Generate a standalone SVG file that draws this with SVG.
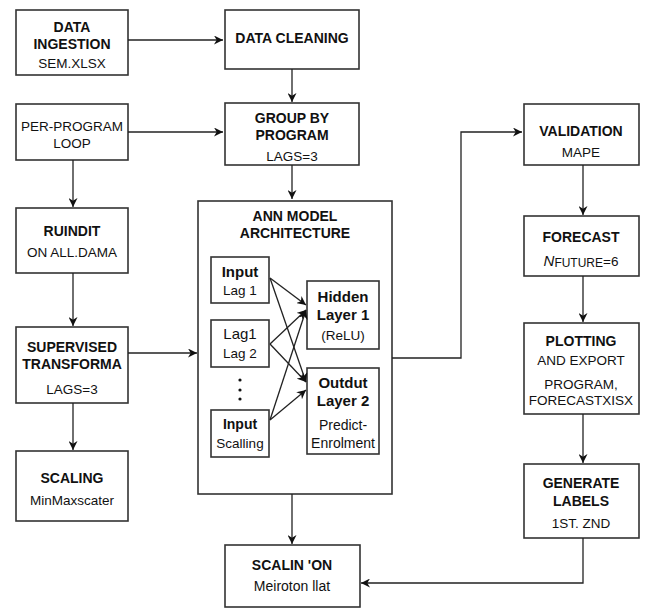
<svg xmlns="http://www.w3.org/2000/svg" width="653" height="615" viewBox="0 0 653 615">
<defs>
<marker id="ah" viewBox="0 0 10 10" refX="10" refY="5" markerWidth="9" markerHeight="9" markerUnits="userSpaceOnUse" orient="auto">
<path d="M0,0 L10,5 L0,10 L3,5 Z" fill="#111"/>
</marker>
<style>
rect{fill:#fff;stroke:#333;stroke-width:1.6}
text{font-family:"Liberation Sans",Arial,sans-serif;fill:#111;text-anchor:middle}
.b{font-weight:bold;font-size:14px}
.r{font-size:13.5px}
.c line,.c path{stroke:#222;stroke-width:1.3;fill:none}
</style>
</defs>
<rect x="0" y="0" width="653" height="615" style="fill:#fff;stroke:none"/>
<g id="data-ingestion">
<rect x="16" y="10" width="112" height="65"/>
<text class="b" x="72" y="32">DATA</text>
<text class="b" x="72" y="49">INGESTION</text>
<text class="r" x="72" y="68">SEM.XLSX</text>
</g>
<g id="data-cleaning">
<rect x="225" y="10" width="134" height="59"/>
<text class="b" x="292" y="43">DATA CLEANING</text>
</g>
<g id="per-program-loop">
<rect x="16" y="104" width="112" height="56"/>
<text class="r" x="72" y="131">PER-PROGRAM</text>
<text class="r" x="72" y="148">LOOP</text>
</g>
<g id="group-by-program">
<rect x="225" y="103" width="134" height="62"/>
<text class="b" x="292" y="123">GROUP BY</text>
<text class="b" x="292" y="140">PROGRAM</text>
<text class="r" x="292" y="161">LAGS=3</text>
</g>
<g id="ruindit">
<rect x="16" y="208" width="112" height="65"/>
<text class="b" x="72" y="236">RUINDIT</text>
<text class="r" x="72" y="257">ON ALL.DAMA</text>
</g>
<g id="supervised">
<rect x="16" y="327" width="112" height="76"/>
<text class="b" x="72" y="352">SUPERVISED</text>
<text class="b" x="72" y="369">TRANSFORMA</text>
<text class="r" x="72" y="394">LAGS=3</text>
</g>
<g id="scaling">
<rect x="16" y="451" width="112" height="70"/>
<text class="b" x="72" y="483">SCALING</text>
<text class="r" x="72" y="505">MinMaxscater</text>
</g>
<g id="ann-model">
<rect x="198" y="201" width="194" height="293"/>
<text class="b" x="295" y="221">ANN MODEL</text>
<text class="b" x="295" y="238">ARCHITECTURE</text>
</g>
<g id="input-lag1">
<rect x="211" y="257" width="58" height="46"/>
<text class="b" x="240" y="277" style="font-size:15px">Input</text>
<text class="r" x="240" y="295">Lag 1</text>
</g>
<g id="lag1-lag2">
<rect x="211" y="320" width="58" height="47"/>
<text class="r" x="240" y="339" style="font-size:15px">Lag1</text>
<text class="r" x="240" y="358">Lag 2</text>
</g>
<g id="dots">
<circle cx="240" cy="380" r="1.6" fill="#111"/>
<circle cx="240" cy="390" r="1.6" fill="#111"/>
<circle cx="240" cy="399" r="1.6" fill="#111"/>
</g>
<g id="input-scalling">
<rect x="211" y="410" width="58" height="47"/>
<text class="b" x="240" y="429">Input</text>
<text class="r" x="240" y="448">Scalling</text>
</g>
<g id="hidden-layer">
<rect x="307" y="281" width="72" height="68"/>
<text class="b" x="343" y="302" style="font-size:15px">Hidden</text>
<text class="b" x="343" y="320" style="font-size:15px">Layer 1</text>
<text class="r" x="343" y="340">(ReLU)</text>
</g>
<g id="output-layer">
<rect x="307" y="368" width="72" height="86"/>
<text class="b" x="343" y="388" style="font-size:15px">Outdut</text>
<text class="b" x="343" y="406" style="font-size:15px">Layer 2</text>
<text class="r" x="343" y="430" style="font-size:14px">Predict-</text>
<text class="r" x="343" y="448" style="font-size:14px">Enrolment</text>
</g>
<g id="scalin-on">
<rect x="225" y="545" width="135" height="62"/>
<text class="b" x="292" y="570">SCALIN 'ON</text>
<text class="r" x="292" y="591" style="font-size:14px">Meiroton llat</text>
</g>
<g id="validation">
<rect x="524" y="104" width="115" height="61"/>
<text class="b" x="581" y="136">VALIDATION</text>
<text class="r" x="581" y="157">MAPE</text>
</g>
<g id="forecast">
<rect x="524" y="216" width="115" height="60"/>
<text class="b" x="581" y="242">FORECAST</text>
<text class="r" x="581" y="266"><tspan font-style="italic" font-size="15">N</tspan><tspan font-size="12" dy="1">FUTURE</tspan><tspan dy="-1">=6</tspan></text>
</g>
<g id="plotting">
<rect x="524" y="323" width="115" height="91"/>
<text class="b" x="581" y="346">PLOTTING</text>
<text class="r" x="581" y="365">AND EXPORT</text>
<text class="r" x="581" y="389">PROGRAM,</text>
<text class="r" x="581" y="405">FORECASTXISX</text>
</g>
<g id="generate-labels">
<rect x="524" y="464" width="115" height="74"/>
<text class="b" x="581" y="488">GENERATE</text>
<text class="b" x="581" y="506">LABELS</text>
<text class="r" x="581" y="528">1ST. ZND</text>
</g>
<g class="c" id="connectors">
<line x1="128" y1="40" x2="223" y2="40" marker-end="url(#ah)"/>
<line x1="128" y1="132" x2="223" y2="132" marker-end="url(#ah)"/>
<line x1="292" y1="69" x2="292" y2="102" marker-end="url(#ah)"/>
<line x1="292" y1="165" x2="292" y2="199" marker-end="url(#ah)"/>
<line x1="73" y1="160" x2="73" y2="207" marker-end="url(#ah)"/>
<line x1="73" y1="273" x2="73" y2="326" marker-end="url(#ah)"/>
<line x1="73" y1="403" x2="73" y2="450" marker-end="url(#ah)"/>
<line x1="128" y1="353" x2="197" y2="353" marker-end="url(#ah)"/>
<path d="M392,358 H461 V132 H522" marker-end="url(#ah)"/>
<line x1="583" y1="165" x2="583" y2="215" marker-end="url(#ah)"/>
<line x1="583" y1="276" x2="583" y2="322" marker-end="url(#ah)"/>
<line x1="583" y1="414" x2="583" y2="463" marker-end="url(#ah)"/>
<path d="M583,538 V583 H361" marker-end="url(#ah)"/>
<line x1="292" y1="494" x2="292" y2="544" marker-end="url(#ah)"/>
<line x1="270" y1="278" x2="306" y2="305" marker-end="url(#ah)"/>
<line x1="270" y1="278" x2="306" y2="382" marker-end="url(#ah)"/>
<line x1="270" y1="344" x2="306" y2="310" marker-end="url(#ah)"/>
<line x1="270" y1="344" x2="306" y2="382" marker-end="url(#ah)"/>
<line x1="270" y1="420" x2="306" y2="310" marker-end="url(#ah)"/>
<line x1="270" y1="420" x2="306" y2="390" marker-end="url(#ah)"/>
</g>
</svg>
